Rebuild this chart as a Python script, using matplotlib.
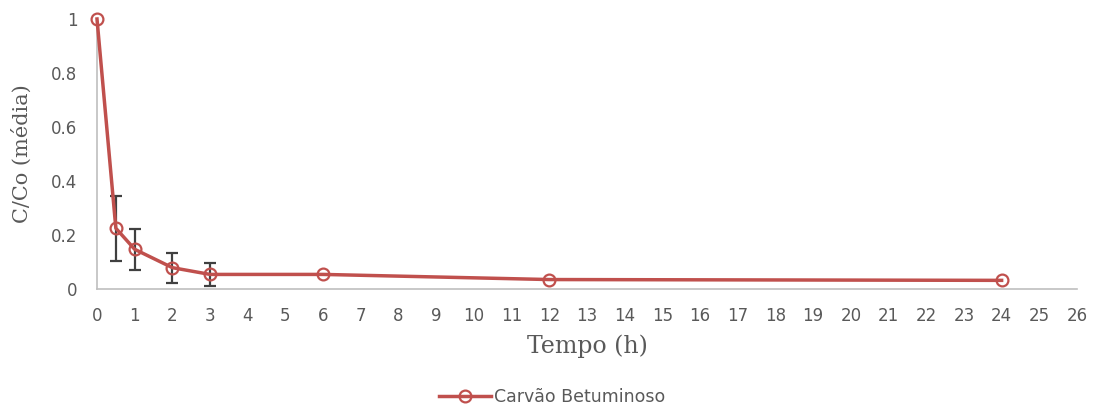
import matplotlib
matplotlib.use("Agg")
import matplotlib.pyplot as plt

tempo = [0, 0.5, 1, 2, 3, 6, 12, 24]
c_co = [1.0, 0.225, 0.147, 0.079, 0.054, 0.054, 0.035, 0.032]
erro = [0, 0.12, 0.076, 0.056, 0.042, 0, 0, 0]
serie = "Carvão Betuminoso"
xticks = list(range(0, 27))
yticks = [0, 0.2, 0.4, 0.6, 0.8, 1]
ytick_labels = ["0", "0.2", "0.4", "0.6", "0.8", "1"]

red = "#C0504D"
fig = plt.figure(figsize=(10.93, 4.07), dpi=100)
ax = fig.add_axes([97/1093, 1-289/407, (1077-97)/1093, 270/407])

yerr = [e if e > 0 else float("nan") for e in erro]
ax.errorbar(tempo, c_co, yerr=yerr, fmt="none", ecolor="#404040", elinewidth=1.6,
            capsize=4.5, capthick=1.6, zorder=2)
ax.plot(tempo, c_co, color=red, lw=2.5, marker="o", markersize=8.5,
        markerfacecolor="none", markeredgecolor=red, markeredgewidth=1.6,
        label=serie, zorder=3, clip_on=False)

ax.set_xlim(0, 26)
ax.set_ylim(0, 1)
ax.set_xticks(xticks)
ax.set_xticklabels([str(t) for t in xticks])
ax.set_yticks(yticks)
ax.set_yticklabels(ytick_labels)
ax.tick_params(length=0, labelsize=12, labelcolor="#595959")
ax.tick_params(axis="x", pad=13)
ax.tick_params(axis="y", pad=14)
for lab in ax.get_xticklabels() + ax.get_yticklabels():
    lab.set_family("DejaVu Sans")
for s in ["top", "right"]:
    ax.spines[s].set_visible(False)
for s in ["left", "bottom"]:
    ax.spines[s].set_color("#BFBFBF")
    ax.spines[s].set_linewidth(1.2)

ax.set_xlabel("Tempo (h)", fontsize=17, family="DejaVu Serif", color="#595959", labelpad=7)
ax.set_ylabel("C/Co (média)", fontsize=15, family="DejaVu Serif", color="#595959", labelpad=14)

leg = fig.legend(loc="center", bbox_to_anchor=(552/1093, 1-397/407), frameon=False,
                 prop={"family": "DejaVu Sans", "size": 12.5}, handlelength=3.0,
                 handletextpad=0.2)
for t in leg.get_texts():
    t.set_color("#595959")

fig.savefig("out.png", dpi=100)
